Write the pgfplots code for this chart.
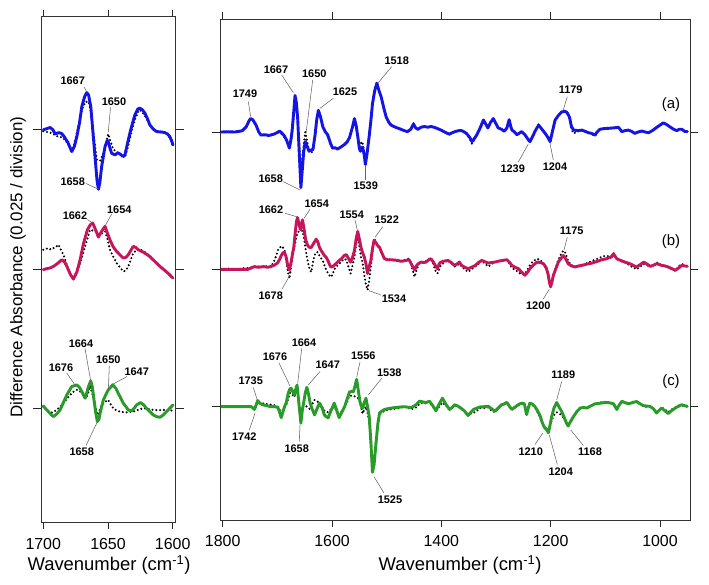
\documentclass[border=0pt]{standalone}
\usepackage{pgfplots}
\pgfplotsset{compat=1.18}
\usepackage{pgfplotstable}
\usepackage{fontspec}
\setmainfont{Liberation Sans}
\definecolor{cblue}{RGB}{20,20,230}
\definecolor{cred}{RGB}{200,20,90}
\definecolor{cgreen}{RGB}{40,155,40}

% ---------- left panel data (1700-1600) ----------
\pgfplotstableread{
x y
1700 0
1697 0.01
1694.6 0.017
1692.5 0.0
1690.8 -0.029
1688 -0.02
1686 -0.025
1684.4 -0.041
1681 -0.09
1678 -0.156
1676 -0.12
1674.1 -0.05
1672 0.05
1670.2 0.168
1668 0.24
1666.4 0.268
1665 0.25
1663.3 0.168
1660.5 -0.14
1658.5 -0.36
1657.4 -0.427
1656.3 -0.38
1654.9 -0.264
1652.3 -0.12
1650.5 -0.075
1649.8 -0.084
1648.5 -0.13
1647.2 -0.168
1644.6 -0.18
1642.5 -0.165
1640.8 -0.173
1638.5 -0.19
1636.9 -0.18
1635 -0.1
1633.1 -0.024
1631 0.05
1629.2 0.108
1627 0.15
1625.4 0.156
1623.5 0.145
1621.5 0.12
1619.5 0.08
1617.7 0.036
1615 0.005
1612.5 -0.012
1609 -0.015
1606.2 -0.019
1604 -0.03
1602.3 -0.048
1601 -0.075
1599.8 -0.108
}\LAs
\pgfplotstableread{
x y
1700 -0.01
1697 -0.015
1694.6 -0.02
1692 -0.03
1690.8 -0.043
1687 -0.05
1684.4 -0.06
1681 -0.1
1678 -0.144
1676 -0.1
1673 0.02
1670.2 0.144
1667.5 0.2
1665 0.204
1663.5 0.14
1662.5 0.07
1660.5 -0.08
1658.6 -0.216
1656 -0.22
1654 -0.18
1652.3 -0.13
1650.5 -0.05
1649.8 -0.029
1648.5 -0.07
1646 -0.14
1643 -0.16
1640.8 -0.17
1638.5 -0.19
1636.9 -0.2
1634.5 -0.12
1631.8 -0.012
1629 0.08
1626.5 0.135
1625.4 0.144
1622 0.11
1619 0.06
1615.5 0.01
1612.5 -0.012
1608 -0.02
1604.8 -0.024
1602 -0.06
1599.8 -0.12
}\LAd
\pgfplotstableread{
x y
1700 -0.004
1697 0.004
1694.6 0.008
1692 0.02
1689 0.04
1685.6 0.068
1683.5 0.05
1681.8 0.02
1679 -0.04
1676.7 -0.072
1674 -0.02
1671.5 0.068
1669 0.18
1665.9 0.283
1663.5 0.32
1661.8 0.331
1659.5 0.28
1657.4 0.23
1655 0.27
1652.3 0.307
1650.5 0.26
1648.5 0.21
1646 0.16
1643.3 0.127
1640.5 0.1
1638.2 0.079
1636 0.085
1634.3 0.103
1632 0.14
1630.5 0.163
1628.5 0.155
1626.7 0.139
1622.8 0.122
1620 0.105
1617.7 0.09
1615 0.065
1612.5 0.043
1610 0.02
1607.4 0.0
1605.5 -0.015
1603.6 -0.03
1601.5 -0.05
1599.8 -0.065
}\LBs
\pgfplotstableread{
x y
1700 0.139
1698 0.145
1696 0.151
1694 0.14
1692 0.151
1690 0.16
1688.2 0.175
1686.5 0.14
1684.4 0.103
1682.5 0.05
1680.5 -0.005
1678.5 -0.045
1676.7 -0.058
1674 -0.02
1671.5 0.043
1667.7 0.163
1663.8 0.283
1660 0.271
1656.1 0.247
1652.3 0.271
1650.5 0.22
1648.5 0.139
1646 0.09
1643.3 0.043
1640.5 0.01
1638.2 -0.017
1636.2 -0.01
1634.3 0.02
1632.3 0.07
1630.5 0.115
1628 0.135
1625.4 0.144
1622.8 0.13
1620.3 0.115
1616.5 0.08
1612.5 0.043
1608.5 0.01
1604.8 -0.017
1602 -0.04
1599.8 -0.065
}\LBd
\pgfplotstableread{
x y
1700 0.017
1698 -0.005
1696 -0.024
1694 -0.045
1692 -0.06
1689.5 -0.04
1687 -0.012
1684.5 0.04
1681.8 0.096
1678 0.156
1674.1 0.168
1672 0.15
1670.2 0.12
1667.7 0.072
1666.4 0.11
1665.1 0.156
1663.3 0.197
1662 0.15
1660.8 0.06
1659.5 -0.03
1658.2 -0.096
1657 -0.08
1656.1 -0.036
1653.6 0.06
1651.5 0.1
1649.8 0.132
1646.4 0.168
1644 0.145
1642.1 0.108
1640 0.07
1638.2 0.036
1636 0.01
1634.3 -0.012
1631.8 -0.019
1629.8 0.0
1627.9 0.024
1624.9 0.041
1622.5 0.025
1620.3 0.0
1617.5 -0.025
1615.1 -0.048
1612.5 -0.06
1610 -0.065
1607.5 -0.05
1604.8 -0.024
1602.3 0.0
1599.8 0.024
}\LCs
\pgfplotstableread{
x y
1700 0.012
1697 -0.015
1694.6 -0.036
1692 -0.025
1689.5 -0.012
1685.6 0.024
1682.5 0.06
1679.2 0.096
1676.5 0.12
1674.1 0.132
1672 0.125
1670.2 0.108
1666.9 0.072
1665 0.12
1663.8 0.16
1662.3 0.11
1660.8 0.06
1659.5 0.0
1658.2 -0.048
1656.7 -0.02
1654.9 0.024
1652.5 0.045
1649.8 0.06
1648 0.03
1646 0.0
1643.5 -0.015
1640.8 -0.024
1636 -0.03
1630.5 -0.024
1626.5 -0.01
1622.8 0.0
1619 -0.005
1615.1 -0.012
1611 -0.014
1607.4 -0.012
1603 -0.015
1599.8 -0.017
}\LCd

% ---------- right panel data (x, solid s, dotted d) ----------
\pgfplotstableread{
x s d
1803 0 0
1790 0.002 -0.002
1778 0.0 0.0
1770 0.005 0.003
1764 0.01 0.008
1757 0.038 0.035
1752 0.08 0.08
1749 0.098 0.1
1745 0.09 0.09
1739 0.05 0.05
1734 0.0 0.0
1730 -0.022 -0.025
1722 -0.02 -0.02
1716 -0.025 -0.03
1712 -0.022 -0.02
1706 -0.015 -0.015
1701 -0.005 -0.01
1696 0.007 0.0
1691 -0.01 -0.02
1687 -0.03 -0.04
1683 -0.06 -0.07
1678 -0.117 -0.12
1675 -0.05 -0.06
1673 0.01 0.0
1670 0.15 0.12
1667.7 0.266 0.22
1665.5 0.22 0.2
1663 0.11 0.1
1660 -0.15 -0.1
1657 -0.405 -0.25
1654.5 -0.28 -0.2
1652 -0.15 -0.1
1649 -0.07 0.0
1646 -0.1 -0.06
1642 -0.14 -0.14
1638 -0.13 -0.15
1635 -0.13 -0.14
1631 -0.02 -0.02
1628 0.09 0.09
1625 0.158 0.165
1621 0.11 0.11
1617 0.04 0.05
1612 0.0 0.0
1608 -0.02 -0.03
1603 -0.08 -0.09
1599 -0.117 -0.12
1594 -0.115 -0.115
1590 -0.124 -0.12
1584 -0.11 -0.11
1577 -0.09 -0.09
1572 -0.07 -0.07
1568 -0.04 -0.04
1563 0.03 0.03
1559 0.098 0.09
1556 0.05 0.05
1553 -0.03 -0.03
1550 -0.12 -0.1
1548 -0.14 -0.09
1546 -0.115 -0.07
1544 -0.11 -0.08
1541 -0.17 -0.15
1539 -0.237 -0.22
1536 -0.16 -0.15
1532 -0.03 -0.03
1529 0.08 0.08
1526 0.206 0.2
1522 0.3 0.3
1518 0.355 0.365
1514 0.3 0.3
1510 0.254 0.26
1505 0.17 0.175
1501 0.11 0.11
1496 0.07 0.07
1492 0.05 0.05
1484 0.035 0.035
1474 0.02 0.02
1468 0.01 0.01
1462 0.003 0.0
1456 0.02 0.02
1451 0.058 0.065
1447 0.03 0.03
1443 0.02 0.02
1437 0.035 0.035
1431 0.04 0.04
1425 0.035 0.035
1419 0.04 0.04
1413 0.034 0.034
1407 0.025 0.025
1401 0.015 0.015
1394 0.0 0.0
1389 -0.01 -0.01
1385 -0.015 -0.02
1380 -0.005 -0.005
1375 0.003 0.003
1368 0.01 0.01
1363 0.01 0.01
1358 0.0 0.0
1354 -0.01 -0.015
1348 -0.04 -0.05
1344 -0.07 -0.085
1340 -0.05 -0.06
1335 -0.02 -0.02
1329 0.03 0.03
1323 0.087 0.095
1319 0.06 0.06
1315 0.03 0.03
1310 0.07 0.07
1305 0.098 0.098
1300 0.06 0.06
1296 0.03 0.03
1290 0.02 0.02
1285 0.005 0.005
1280 0.03 0.03
1276 0.09 0.09
1273 0.04 0.04
1271 0.015 0.015
1266 0.0 0.0
1262 -0.02 -0.02
1258 -0.01 -0.01
1253 0.003 0.003
1247 -0.02 -0.02
1242 -0.05 -0.05
1238 -0.07 -0.08
1234 -0.04 -0.04
1228 0.01 0.01
1222 0.05 0.055
1216 0.02 0.02
1210 -0.01 -0.01
1205 -0.04 -0.04
1201 -0.07 -0.07
1197 0.0 0.0
1192 0.086 0.086
1186 0.12 0.12
1180 0.146 0.15
1175 0.15 0.155
1171 0.146 0.15
1167 0.12 0.13
1165 0.098 0.098
1162 0.04 0.02
1158 0.014 -0.01
1150 0.01 0.005
1143 0.014 0.01
1137 0.005 0.005
1131 -0.005 -0.005
1125 -0.01 -0.015
1119 -0.022 -0.03
1115 0.0 0.0
1110 0.02 0.02
1102 0.025 0.028
1094 0.027 0.03
1085 0.03 0.03
1076 0.034 0.036
1073 0.02 0.02
1070 0.003 0.003
1064 0.01 0.01
1058 0.014 0.014
1052 0.005 0.005
1046 -0.01 -0.01
1040 0.0 0.0
1033 0.007 0.007
1027 0.0 0.0
1021 -0.005 -0.005
1014 0.01 0.01
1006 0.034 0.034
1000 0.05 0.05
994 0.067 0.067
988 0.055 0.055
982 0.038 0.038
975 0.02 0.02
969 0.01 0.01
965 0.02 0.02
960 0.02 0.02
955 0.005 0.005
950 0.003 0.003
}\RA
\pgfplotstableread{
x s d
1803 0 0
1790 0 0.005
1775 0.0 0.0
1760 0.0 0.01
1754 0 0.01
1748 0.01 0.015
1742 0.02 0.02
1735 0.015 0.02
1725 0.02 0.018
1718 0.015 0.025
1712 0.02 0.02
1706 0.03 0.06
1702 0.04 0.1
1699 0.05 0.14
1695 0.08 0.16
1693 0.1 0.17
1690 0.12 0.16
1687 0.125 0.14
1684 0.09 0.08
1681 0.03 -0.01
1678 -0.005 -0.067
1675 0.05 0.02
1672 0.12 0.1
1670 0.16 0.14
1667 0.28 0.2
1665 0.35 0.24
1663 0.377 0.27
1660.5 0.33 0.275
1658 0.29 0.28
1656 0.33 0.28
1654 0.36 0.28
1651 0.29 0.22
1648 0.21 0.137
1644 0.17 0.05
1641 0.16 0.0
1638 0.16 -0.02
1635 0.18 0.05
1632 0.2 0.1
1629 0.22 0.125
1626 0.2 0.125
1623 0.16 0.1
1620 0.137 0.08
1617 0.12 0.065
1614 0.1 0.03
1611 0.09 0.0
1607 0.06 -0.03
1604 0.03 -0.05
1602 0.017 -0.055
1599 0.02 -0.04
1596 0.03 0.0
1592 0.045 0.02
1587 0.065 0.04
1582 0.08 0.06
1578 0.1 0.077
1574 0.108 0.07
1570 0.08 0.02
1566 0.053 -0.03
1563 0.08 0.02
1559 0.137 0.09
1556 0.22 0.18
1553 0.276 0.233
1550 0.22 0.17
1547 0.16 0.09
1544 0.12 0.05
1541 0.09 -0.04
1538 0.04 -0.11
1535 -0.03 -0.15
1532 0.02 -0.08
1529 0.065 0.017
1526 0.15 0.13
1523 0.213 0.227
1519 0.19 0.19
1516 0.17 0.17
1513 0.16 0.155
1509 0.12 0.12
1504 0.077 0.077
1498 0.07 0.075
1492 0.07 0.07
1486 0.068 0.065
1480 0.065 0.06
1475 0.06 0.06
1471 0.06 0.065
1465 0.065 0.07
1459 0.07 0.08
1455 0.04 0.03
1449 -0.005 -0.055
1445 0.03 0.0
1441 0.045 0.04
1437 0.053 0.05
1432 0.05 0.055
1428 0.053 0.06
1423 0.07 0.075
1419 0.077 0.08
1414 0.05 0.03
1410 0.02 -0.02
1407 0.005 -0.03
1404 0.04 0.0
1401 0.053 0.03
1395 0.06 0.05
1388 0.065 0.065
1382 0.05 0.045
1376 0.029 0.02
1371 0.04 0.03
1367 0.053 0.04
1363 0.029 0.02
1357 0.015 0.0
1351 0.005 -0.019
1345 0.015 0.0
1338 0.029 0.02
1332 0.05 0.04
1326 0.065 0.065
1320 0.055 0.04
1314 0.046 0.02
1308 0.05 0.04
1302 0.053 0.05
1295 0.06 0.06
1288 0.065 0.065
1280 0.07 0.07
1275 0.05 0.04
1271 0.029 0.01
1265 0.015 -0.005
1259 0.005 -0.02
1253 -0.02 -0.04
1247 -0.043 -0.03
1242 -0.02 0.0
1238 0.005 0.03
1232 0.03 0.06
1225 0.053 0.077
1219 0.05 0.07
1213 0.041 0.04
1208 0.01 0.0
1205 -0.031 -0.03
1202 -0.1 -0.08
1200 -0.127 -0.11
1197 -0.08 -0.07
1195 -0.043 -0.04
1190 0.01 0.02
1186 0.053 0.07
1181 0.08 0.11
1177 0.101 0.137
1173 0.08 0.12
1168 0.041 0.06
1162 0.025 0.03
1155 0.017 0.02
1149 0.025 0.02
1143 0.029 0.03
1137 0.035 0.04
1131 0.041 0.05
1125 0.045 0.06
1119 0.053 0.07
1113 0.06 0.08
1107 0.07 0.09
1100 0.075 0.1
1094 0.084 0.095
1089 0.09 0.1
1085 0.113 0.12
1079 0.077 0.08
1072 0.065 0.06
1064 0.053 0.05
1058 0.045 0.035
1052 0.036 0.02
1047 0.025 0.01
1043 0.017 0.0
1036 0.035 0.02
1030 0.053 0.04
1024 0.04 0.03
1018 0.022 0.02
1012 0.03 0.03
1006 0.041 0.05
1001 0.035 0.04
997 0.029 0.03
991 0.025 0.025
985 0.017 0.02
978 0.005 0.0
972 -0.007 -0.01
966 0.01 0.02
960 0.029 0.04
955 0.025 0.03
950 0.022 0.02
}\RB
\pgfplotstableread{
x s d
1803 0 0
1790 0 0.002
1775 0 0
1760 0 0.003
1748 0 0
1745 -0.008 -0.005
1742 -0.02 -0.01
1739 0.01 0.015
1736 0.045 0.03
1732 0.025 0.03
1727 0.014 0.025
1720 0.008 0.02
1712 0.0 0.015
1705 0.0 0.01
1699 -0.005 0.0
1696 -0.04 -0.02
1693 -0.08 -0.05
1690 -0.04 -0.02
1687 0.0 -0.005
1684 0.026 0.01
1680 0.1 0.06
1677 0.13 0.1
1675 0.134 0.1
1672 0.11 0.085
1669 0.086 0.07
1667 0.12 0.1
1664 0.158 0.13
1662 0.08 0.07
1660 0.0 0.0
1657 -0.12 -0.09
1654.5 -0.03 -0.02
1652 0.026 0.02
1649 0.1 0.01
1646 0.141 0.0
1643 0.09 -0.01
1640 0.026 -0.02
1636 -0.02 0.02
1632 -0.06 0.05
1628 -0.02 0.04
1623 0.026 0.03
1618 -0.01 0.0
1614 -0.06 -0.03
1610 -0.075 -0.04
1607 -0.08 -0.04
1602 -0.03 -0.02
1596 0.026 0.0
1592 -0.02 -0.03
1587 -0.08 -0.06
1582 -0.04 -0.03
1577 0.0 0.0
1572 0.06 0.04
1568 0.108 0.08
1564 0.11 0.08
1561 0.108 0.075
1558 0.15 0.075
1555 0.199 0.07
1552 0.12 0.06
1549 0.038 0.04
1546 0.0 -0.02
1544 -0.012 -0.05
1541 0.03 -0.02
1538 0.062 0.0
1535 0.0 -0.05
1532 -0.07 -0.1
1529 -0.25 -0.28
1526 -0.477 -0.46
1523 -0.42 -0.4
1520 -0.285 -0.27
1516 -0.12 -0.12
1513 -0.045 -0.06
1508 -0.03 -0.04
1504 -0.02 -0.03
1495 -0.012 -0.02
1486 -0.007 -0.015
1477 -0.003 -0.01
1468 0.0 0.0
1462 -0.003 -0.005
1456 -0.007 -0.02
1450 0.005 -0.01
1446 0.015 -0.005
1440 0.04 0.02
1434 0.035 0.03
1428 0.03 0.025
1422 0.04 0.035
1416 0.01 0.0
1410 -0.03 -0.025
1404 0.02 0.0
1398 0.062 0.03
1392 0.02 0.01
1385 -0.02 -0.015
1380 -0.005 0.0
1376 0.014 0.01
1370 0.005 0.0
1365 -0.008 -0.01
1358 -0.03 -0.035
1351 -0.064 -0.065
1346 -0.04 -0.05
1341 -0.02 -0.045
1335 -0.01 -0.03
1329 -0.002 -0.01
1322 0.0 -0.01
1314 0.003 -0.005
1308 -0.015 -0.03
1302 -0.034 -0.04
1296 -0.01 -0.01
1290 0.014 0.01
1285 0.02 0.025
1280 0.031 0.035
1275 0.0 0.0
1271 -0.02 -0.02
1266 -0.005 -0.01
1262 0.007 0.0
1257 0.02 0.015
1253 0.026 0.02
1248 0.021 0.02
1246 -0.02 -0.02
1244 -0.058 -0.05
1241 -0.01 0.0
1238 0.026 0.02
1234 0.02 0.015
1229 0.002 0.0
1224 -0.03 -0.04
1219 -0.07 -0.08
1215 -0.12 -0.13
1211 -0.153 -0.15
1207 -0.17 -0.16
1204 -0.19 -0.17
1201 -0.13 -0.13
1198 -0.07 -0.1
1194 -0.01 -0.06
1189 0.031 -0.04
1185 0.0 -0.05
1180 -0.034 -0.06
1175 -0.08 -0.09
1171 -0.12 -0.12
1168 -0.141 -0.135
1164 -0.11 -0.11
1158 -0.07 -0.07
1152 -0.035 -0.035
1146 -0.01 -0.01
1140 -0.005 -0.005
1134 -0.01 -0.01
1127 0.005 0.005
1119 0.021 0.02
1110 0.025 0.03
1100 0.031 0.035
1092 0.028 0.03
1085 0.021 0.02
1082 0.0 0.0
1079 -0.02 -0.02
1075 0.01 0.01
1070 0.038 0.045
1064 0.03 0.03
1058 0.021 0.02
1050 0.03 0.035
1043 0.038 0.04
1036 0.02 0.02
1030 0.007 0.0
1024 0.005 0.0
1018 0.002 0.005
1012 -0.015 -0.015
1006 -0.046 -0.045
1001 -0.025 -0.02
997 -0.01 -0.005
991 -0.03 -0.02
985 -0.05 -0.04
979 -0.03 -0.02
972 -0.01 -0.005
966 0.005 0.0
960 0.014 0.01
955 0.008 0.005
950 0.002 0.0
}\RC

\pgfplotsset{
  panel/.style={
    scale only axis,
    x dir=reverse,
    ytick={0,1,2}, yticklabels={},
    tick align=outside,
    axis line style={black!80, line width=0.8bp},
    tick style={black!85, line width=0.8bp},
    xtick style={/pgfplots/major tick length=6.5bp},
    ytick style={/pgfplots/major tick length=8.5bp},
    scaled x ticks=false,
    xticklabel style={font=\fontsize{16}{16}\selectfont, yshift=-8bp,
      /pgf/number format/assume math mode=true,
      /pgf/number format/set thousands separator={}},
    xlabel style={font=\fontsize{18.5}{18.5}\selectfont},
    ylabel style={font=\fontsize{17}{17}\selectfont},
    clip=true,
  },
  sol/.style={line width=2.9bp, line join=round, line cap=round},
  dot/.style={black, line width=2.3bp, dash pattern=on 0bp off 3.8bp, line cap=round},
}
\tikzset{
  lab/.style={font=\bfseries\fontsize{11}{11}\selectfont, inner sep=0pt},
  ldr/.style={draw=black!60, line width=0.55bp},
  tag/.style={font=\fontsize{15}{15}\selectfont, inner sep=0pt},
}

\begin{document}
\begin{tikzpicture}
\useasboundingbox (0,0) rectangle (709bp,585bp);

% ---------------- left panel ----------------
\begin{axis}[panel,
  at={(41.7bp,62.3bp)}, anchor=south west,
  width=134bp, height=506bp,
  xmin=1597.7, xmax=1701.2, ymin=-0.822, ymax=2.813,
  xtick={1600,1650,1700},
  xlabel={Wavenumber (cm\textsuperscript{-1})},
  xlabel style={at={(axis description cs:0.502,-0.0836)}, anchor=center},
  ylabel={Difference Absorbance (0.025 / division)},
  ylabel style={at={(axis description cs:-0.177,0.505)}, anchor=center},
]
\addplot[dot] table[x=x, y expr=\thisrow{y}+2] {\LAd};
\addplot[sol, cblue] table[x=x, y expr=\thisrow{y}+2] {\LAs};
\addplot[dot] table[x=x, y expr=\thisrow{y}+1] {\LBd};
\addplot[sol, cred] table[x=x, y expr=\thisrow{y}+1] {\LBs};
\addplot[dot] table[x=x, y expr=\thisrow{y}] {\LCd};
\addplot[sol, cgreen] table[x=x, y expr=\thisrow{y}] {\LCs};
\end{axis}

% ---------------- right panel ----------------
\begin{axis}[panel,
  at={(220.7bp,65bp)}, anchor=south west,
  width=469.3bp, height=501bp,
  xmin=945.1, xmax=1803.7, ymin=-0.825, ymax=2.823,
  xtick={1000,1200,1400,1600,1800},
  xlabel={Wavenumber (cm\textsuperscript{-1})},
  xlabel style={at={(axis description cs:0.51,-0.0898)}, anchor=center},
]
\addplot[dot] table[x=x, y expr=\thisrow{d}+2] {\RA};
\addplot[sol, cblue] table[x=x, y expr=\thisrow{s}+2] {\RA};
\addplot[dot] table[x=x, y expr=\thisrow{d}+1] {\RB};
\addplot[sol, cred] table[x=x, y expr=\thisrow{s}+1] {\RB};
\addplot[dot] table[x=x, y expr=\thisrow{d}] {\RC};
\addplot[sol, cgreen] table[x=x, y expr=\thisrow{s}] {\RC};
\end{axis}

% ---------------- peak annotations (pixel frame, y down) ----------------
\begin{scope}[x=1bp, y=-1bp, yshift=585bp]
\newcommand\ann[7]{\draw[ldr] (#4,#5) -- (#6,#7); \node[lab] at (#2,#3) {#1};}
% left panel
\ann{1667}{72.7}{81}{84}{87}{87}{92}
\ann{1650}{114}{101.5}{110.5}{107.5}{108.3}{132}
\ann{1658}{72.7}{181.7}{86}{183.5}{98}{189}
\ann{1662}{75}{216}{87.3}{219.5}{92.5}{223}
\ann{1654}{119.3}{209.3}{111.7}{214}{105}{226}
\ann{1676}{61}{367.3}{66.7}{373}{75}{385}
\ann{1664}{81}{343.3}{85}{348.5}{90.7}{381}
\ann{1650}{108.3}{360}{109.3}{366}{108.3}{390}
\ann{1647}{136.7}{371.7}{127}{376.5}{113.3}{384}
\ann{1658}{81.7}{451.7}{86}{445.5}{97.3}{422}
% right panel (a)
\ann{1749}{245}{93.3}{248.3}{101.7}{250.7}{116.7}
\ann{1667}{276}{69.3}{281.7}{75}{293.3}{92.7}
\ann{1650}{314.3}{74}{312.7}{80}{306}{133.3}
\ann{1625}{345}{91.7}{333.3}{98.3}{320}{108.3}
\ann{1518}{396.7}{60.7}{391.7}{66.7}{378.3}{82.7}
\ann{1658}{270.7}{179}{283.3}{181.7}{300}{190}
\ann{1539}{365.7}{186}{365.7}{180}{365.7}{165}
\ann{1179}{570.7}{90}{567.3}{96.7}{563.3}{110}
\ann{1239}{512.7}{168.3}{518.3}{162}{528.3}{144}
\ann{1204}{555}{166.7}{553.3}{160}{550}{143.3}
% right panel (b)
\ann{1662}{271}{210}{285}{213.3}{296.7}{216.7}
\ann{1654}{316.7}{203.3}{310}{209.3}{304}{218.3}
\ann{1554}{351.7}{214.3}{355}{220}{357.3}{230}
\ann{1522}{386.7}{220}{382.7}{226.7}{375}{237.3}
\ann{1678}{270.7}{296}{282}{289}{290}{275}
\ann{1534}{394}{299}{381}{295}{369}{290.7}
\ann{1175}{571.7}{231}{567.3}{237.3}{564}{250}
\ann{1200}{538.3}{306}{543.3}{299}{549.3}{289.3}
% right panel (c)
\ann{1735}{250.7}{381}{253.3}{387.5}{257.3}{400}
\ann{1742}{244.3}{436.7}{249.3}{430}{255}{413.3}
\ann{1676}{275}{356.7}{279}{363}{290}{386}
\ann{1664}{304}{342.7}{301.7}{348.5}{297.7}{383.3}
\ann{1647}{327.7}{365}{320}{371.5}{308.3}{385}
\ann{1658}{296.7}{448.3}{299.3}{441.5}{300}{425}
\ann{1556}{363.3}{355.7}{360}{362}{356.7}{377.3}
\ann{1538}{389.3}{372.7}{381.7}{378.3}{368.3}{395}
\ann{1525}{390}{499.3}{384}{493}{374}{476.7}
\ann{1189}{563.3}{375}{561.7}{381.5}{556.7}{400}
\ann{1210}{530.7}{451.7}{535}{444.5}{542.7}{433.3}
\ann{1204}{560.7}{471.7}{557.3}{464.5}{549.3}{435}
\ann{1168}{590}{451.7}{583.3}{445.5}{570.7}{430}
\node[tag] at (671,105) {(a)};
\node[tag] at (671,241.7) {(b)};
\node[tag] at (671,381.7) {(c)};
\end{scope}
\end{tikzpicture}
\end{document}
